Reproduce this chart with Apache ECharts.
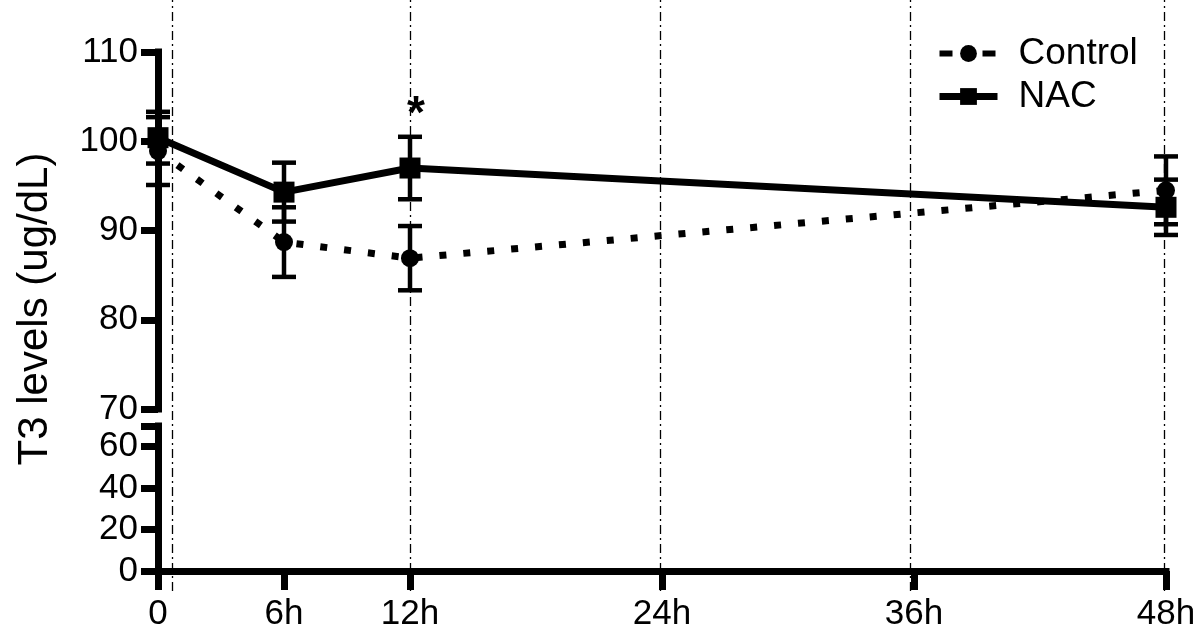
<!DOCTYPE html>
<html>
<head>
<meta charset="utf-8">
<script src="https://cdn.jsdelivr.net/npm/echarts@6/dist/echarts.min.js"></script>
<style>html,body{margin:0;padding:0;background:#fff;}#chart{width:1200px;height:636px;}</style>
</head>
<body>
<div id="chart"></div>
<script>
// ---- data ----
var hours = [0, 6, 12, 48];
var xTicks = [0, 6, 12, 24, 36, 48];
var xTickLabels = ['0', '6h', '12h', '24h', '36h', '48h'];
var controlMean = [98.9, 88.7, 86.9, 94.5];
var controlErr = [3.8, 3.9, 3.6, 3.8];
var nacMean = [100.4, 94.3, 97.0, 92.6];
var nacErr = [2.9, 3.3, 3.5, 3.1];
var upperTicks = [70, 80, 90, 100, 110];
var lowerTicks = [0, 20, 40, 60];
var refLines = [0.7, 12, 23.9, 35.8, 47.9];
var starPoint = [12, 104.3];

var FONT = 'Liberation Sans, Arial, sans-serif';
var chart = echarts.init(document.getElementById('chart'));

function pairs(xs, ys) { return xs.map(function (x, i) { return [x, ys[i]]; }); }
function errData(xs, m, e) { return xs.map(function (x, i) { return [x, m[i], e[i]]; }); }

function errRender(params, api) {
  var x = api.value(0), m = api.value(1), e = api.value(2);
  var t = api.coord([x, m + e]), b = api.coord([x, m - e]);
  var hw = 12, st = { stroke: '#000', lineWidth: 4.5 };
  return { type: 'group', children: [
    { type: 'line', shape: { x1: t[0], y1: t[1], x2: b[0], y2: b[1] }, style: st },
    { type: 'line', shape: { x1: t[0] - hw, y1: t[1], x2: t[0] + hw, y2: t[1] }, style: st },
    { type: 'line', shape: { x1: b[0] - hw, y1: b[1], x2: b[0] + hw, y2: b[1] }, style: st }
  ]};
}

function starRender(params, api) {
  var p = api.coord([api.value(0), api.value(1)]);
  return { type: 'text', x: p[0] + 6, y: p[1] + 12,
    style: { text: '*', font: 'bold 46px ' + FONT, fill: '#000', align: 'center', verticalAlign: 'middle' } };
}

var axisLine = { show: true, lineStyle: { color: '#000', width: 7, cap: 'square' } };
var axisTick = { show: true, length: 17, lineStyle: { color: '#000', width: 7 } };
var labelStyle = { color: '#000', fontSize: 35, fontFamily: FONT };

var option = {
  animation: false,
  backgroundColor: '#fff',
  grid: [
    { left: 158, right: 34, top: 52, height: 357 },
    { left: 158, right: 34, top: 426, height: 145 },
    { left: 158, right: 34, top: 0, height: 591 }
  ],
  xAxis: [
    { type: 'value', gridIndex: 0, min: 0, max: 48, show: false },
    { type: 'value', gridIndex: 1, min: 0, max: 48,
      axisLine: axisLine,
      axisTick: { show: true, length: 19, lineStyle: { color: '#000', width: 7 }, customValues: xTicks },
      axisLabel: Object.assign({ margin: 26, customValues: xTicks,
        formatter: function (v) { return xTickLabels[xTicks.indexOf(v)]; } }, labelStyle),
      splitLine: { show: false } },
    { type: 'value', gridIndex: 2, min: 0, max: 48, show: false }
  ],
  yAxis: [
    { type: 'value', gridIndex: 0, min: 70, max: 110,
      axisLine: axisLine,
      axisTick: Object.assign({ customValues: upperTicks }, axisTick),
      axisLabel: Object.assign({ margin: 20, customValues: upperTicks }, labelStyle),
      splitLine: { show: false } },
    { type: 'value', gridIndex: 1, min: 0, max: 70,
      axisLine: axisLine,
      axisTick: Object.assign({ customValues: lowerTicks.concat([70]) }, axisTick),
      axisLabel: Object.assign({ margin: 20, customValues: lowerTicks }, labelStyle),
      splitLine: { show: false } },
    { type: 'value', gridIndex: 2, min: 0, max: 1, show: false }
  ],
  legend: {
    data: [
      { name: 'Control', lineStyle: { width: 6, type: [13, 30], color: '#000' } },
      { name: 'NAC', lineStyle: { width: 7, type: 'solid', color: '#000' } }
    ],
    orient: 'vertical',
    left: 931, top: 30,
    itemWidth: 58, itemHeight: 21, itemGap: 6,
    textStyle: { color: '#000', fontSize: 37, fontFamily: FONT, padding: [0, 0, 0, 16] }
  },
  graphic: [{
    type: 'text', x: 35, y: 309,
    style: { text: 'T3 levels (ug/dL)', font: '42px ' + FONT, fill: '#000', align: 'center', verticalAlign: 'middle' },
    rotation: Math.PI / 2
  }],
  series: [
    { name: 'refs', type: 'line', xAxisIndex: 2, yAxisIndex: 2, data: [], silent: true, z: 0,
      markLine: { silent: true, symbol: ['none', 'none'], label: { show: false },
        lineStyle: { color: '#000', width: 1.3, type: [9, 4, 2, 4] },
        data: refLines.map(function (v) { return { xAxis: v }; }) } },
    { name: 'Control', type: 'line', xAxisIndex: 0, yAxisIndex: 0,
      data: pairs(hours, controlMean), symbol: 'circle', symbolSize: 18,
      itemStyle: { color: '#000' },
      lineStyle: { color: '#000', width: 7, type: [7, 17] }, z: 3 },
    { name: 'NAC', type: 'line', xAxisIndex: 0, yAxisIndex: 0,
      data: pairs(hours, nacMean), symbol: 'rect', symbolSize: 21,
      itemStyle: { color: '#000' },
      lineStyle: { color: '#000', width: 7 }, z: 4 },
    { name: 'ctrlErr', type: 'custom', xAxisIndex: 0, yAxisIndex: 0, clip: false,
      data: errData(hours, controlMean, controlErr), renderItem: errRender, z: 2 },
    { name: 'nacErr', type: 'custom', xAxisIndex: 0, yAxisIndex: 0, clip: false,
      data: errData(hours, nacMean, nacErr), renderItem: errRender, z: 2 },
    { name: 'star', type: 'custom', xAxisIndex: 0, yAxisIndex: 0, clip: false,
      data: [starPoint], renderItem: starRender, z: 5 }
  ]
};
chart.setOption(option);
</script>
</body>
</html>
